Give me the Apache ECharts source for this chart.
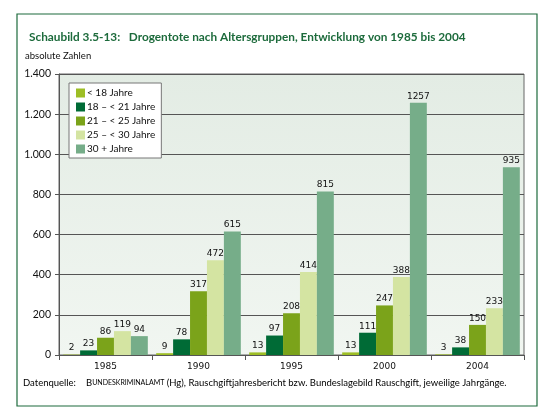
<!DOCTYPE html>
<html><head><meta charset="utf-8">
<script src="https://cdn.jsdelivr.net/npm/echarts@6/dist/echarts.min.js"></script>
<style>html,body{margin:0;padding:0;background:#fff}#c{width:559px;height:416px}</style>
</head><body><div id="c"></div>
<script>
const categories = ['1985', '1990', '1995', '2000', '2004'];
const seriesNames = ['< 18 Jahre', '18 – < 21 Jahre', '21 – < 25 Jahre', '25 – < 30 Jahre', '30 + Jahre'];
const under18 = [2, 9, 13, 13, 3];
const age18to21 = [23, 78, 97, 111, 38];
const age21to25 = [86, 317, 208, 247, 150];
const age25to30 = [119, 472, 414, 388, 233];
const age30plus = [94, 615, 815, 1257, 935];
const yTicks = [0, 200, 400, 600, 800, 1000, 1200, 1400];
const colors = ['#9dbe25', '#006b36', '#7ba31a', '#d4e4a2', '#76ad89'];
const FONT = 'Lato, "Open Sans", sans-serif';
const NUMFONT = '"DejaVu Sans", Verdana, sans-serif';

const allValues = [under18, age18to21, age21to25, age25to30, age30plus];
const chart = echarts.init(document.getElementById('c'), null, {renderer: 'canvas'});
chart.setOption({
  animation: false,
  title: {
    text: 'Schaubild 3.5-13:   Drogentote nach Altersgruppen, Entwicklung von 1985 bis 2004',
    left: 24, top: 26,
    textStyle: {fontFamily: FONT, fontSize: 11.8, fontWeight: 'bold', color: '#1d6b3c'}
  },
  graphic: [
    {type: 'rect', shape: {x: 17, y: 14, width: 520, height: 392}, style: {fill: 'none', stroke: '#1d6b3c', lineWidth: 1.2}, z: -10},
    {type: 'text', left: 25, top: 51, style: {text: 'absolute Zahlen', font: '9.5px ' + FONT, fill: '#111'}},
    {type: 'text', left: 23, top: 378, style: {
      text: '{a|Datenquelle:}',
      rich: {a: {fontFamily: FONT, fontSize: 9.5, color: '#444'}}
    }},
    {type: 'text', left: 86, top: 378, style: {
      text: '{b|B}{s|UNDESKRIMINALAMT}{b| (Hg), Rauschgiftjahresbericht bzw. Bundeslagebild Rauschgift, jeweilige Jahrgänge.}',
      rich: {
        b: {fontFamily: FONT, fontSize: 9.5, color: '#444'},
        s: {fontFamily: FONT, fontSize: 7, color: '#444'}
      }
    }}
  ],
  legend: {
    orient: 'vertical', left: 69, top: 83,
    backgroundColor: '#fff', borderColor: '#777', borderWidth: 1,
    padding: [5, 6, 4, 7], itemGap: 4, itemWidth: 9, itemHeight: 9,
    icon: 'rect',
    textStyle: {fontFamily: FONT, fontSize: 10, color: '#111', padding: [0, 0, 0, -3]},
    data: seriesNames
  },
  grid: {
    left: 59, right: 35, top: 74, bottom: 61,
    show: true, borderColor: '#666', borderWidth: 1,
    backgroundColor: {type: 'linear', x: 0, y: 0, x2: 0, y2: 1,
      colorStops: [{offset: 0, color: '#e3ece4'}, {offset: 1, color: '#f1f6f1'}]}
  },
  xAxis: {
    type: 'category', data: categories,
    axisLine: {lineStyle: {color: '#555'}},
    axisTick: {show: true, length: 5, lineStyle: {color: '#555'}},
    axisLabel: {fontFamily: NUMFONT, fontSize: 9, color: '#111', margin: 7}
  },
  yAxis: {
    type: 'value', min: yTicks[0], max: yTicks[yTicks.length - 1], interval: 200,
    axisLine: {show: true, lineStyle: {color: '#555'}},
    axisTick: {show: true, length: 4, lineStyle: {color: '#555'}},
    splitLine: {lineStyle: {color: '#555', width: 1}},
    axisLabel: {fontFamily: FONT, fontSize: 10.5, color: '#111', margin: 8,
      formatter: v => v >= 1000 ? Math.floor(v / 1000) + '.' + String(v % 1000).padStart(3, '0') : String(v)}
  },
  series: seriesNames.map((n, i) => ({
    name: n, type: 'bar', data: allValues[i],
    barGap: '0%', barCategoryGap: '9%',
    itemStyle: {color: colors[i]},
    label: {show: true, position: 'top', distance: 2, fontFamily: NUMFONT, fontSize: 9, color: '#111'}
  }))
});
</script></body></html>
